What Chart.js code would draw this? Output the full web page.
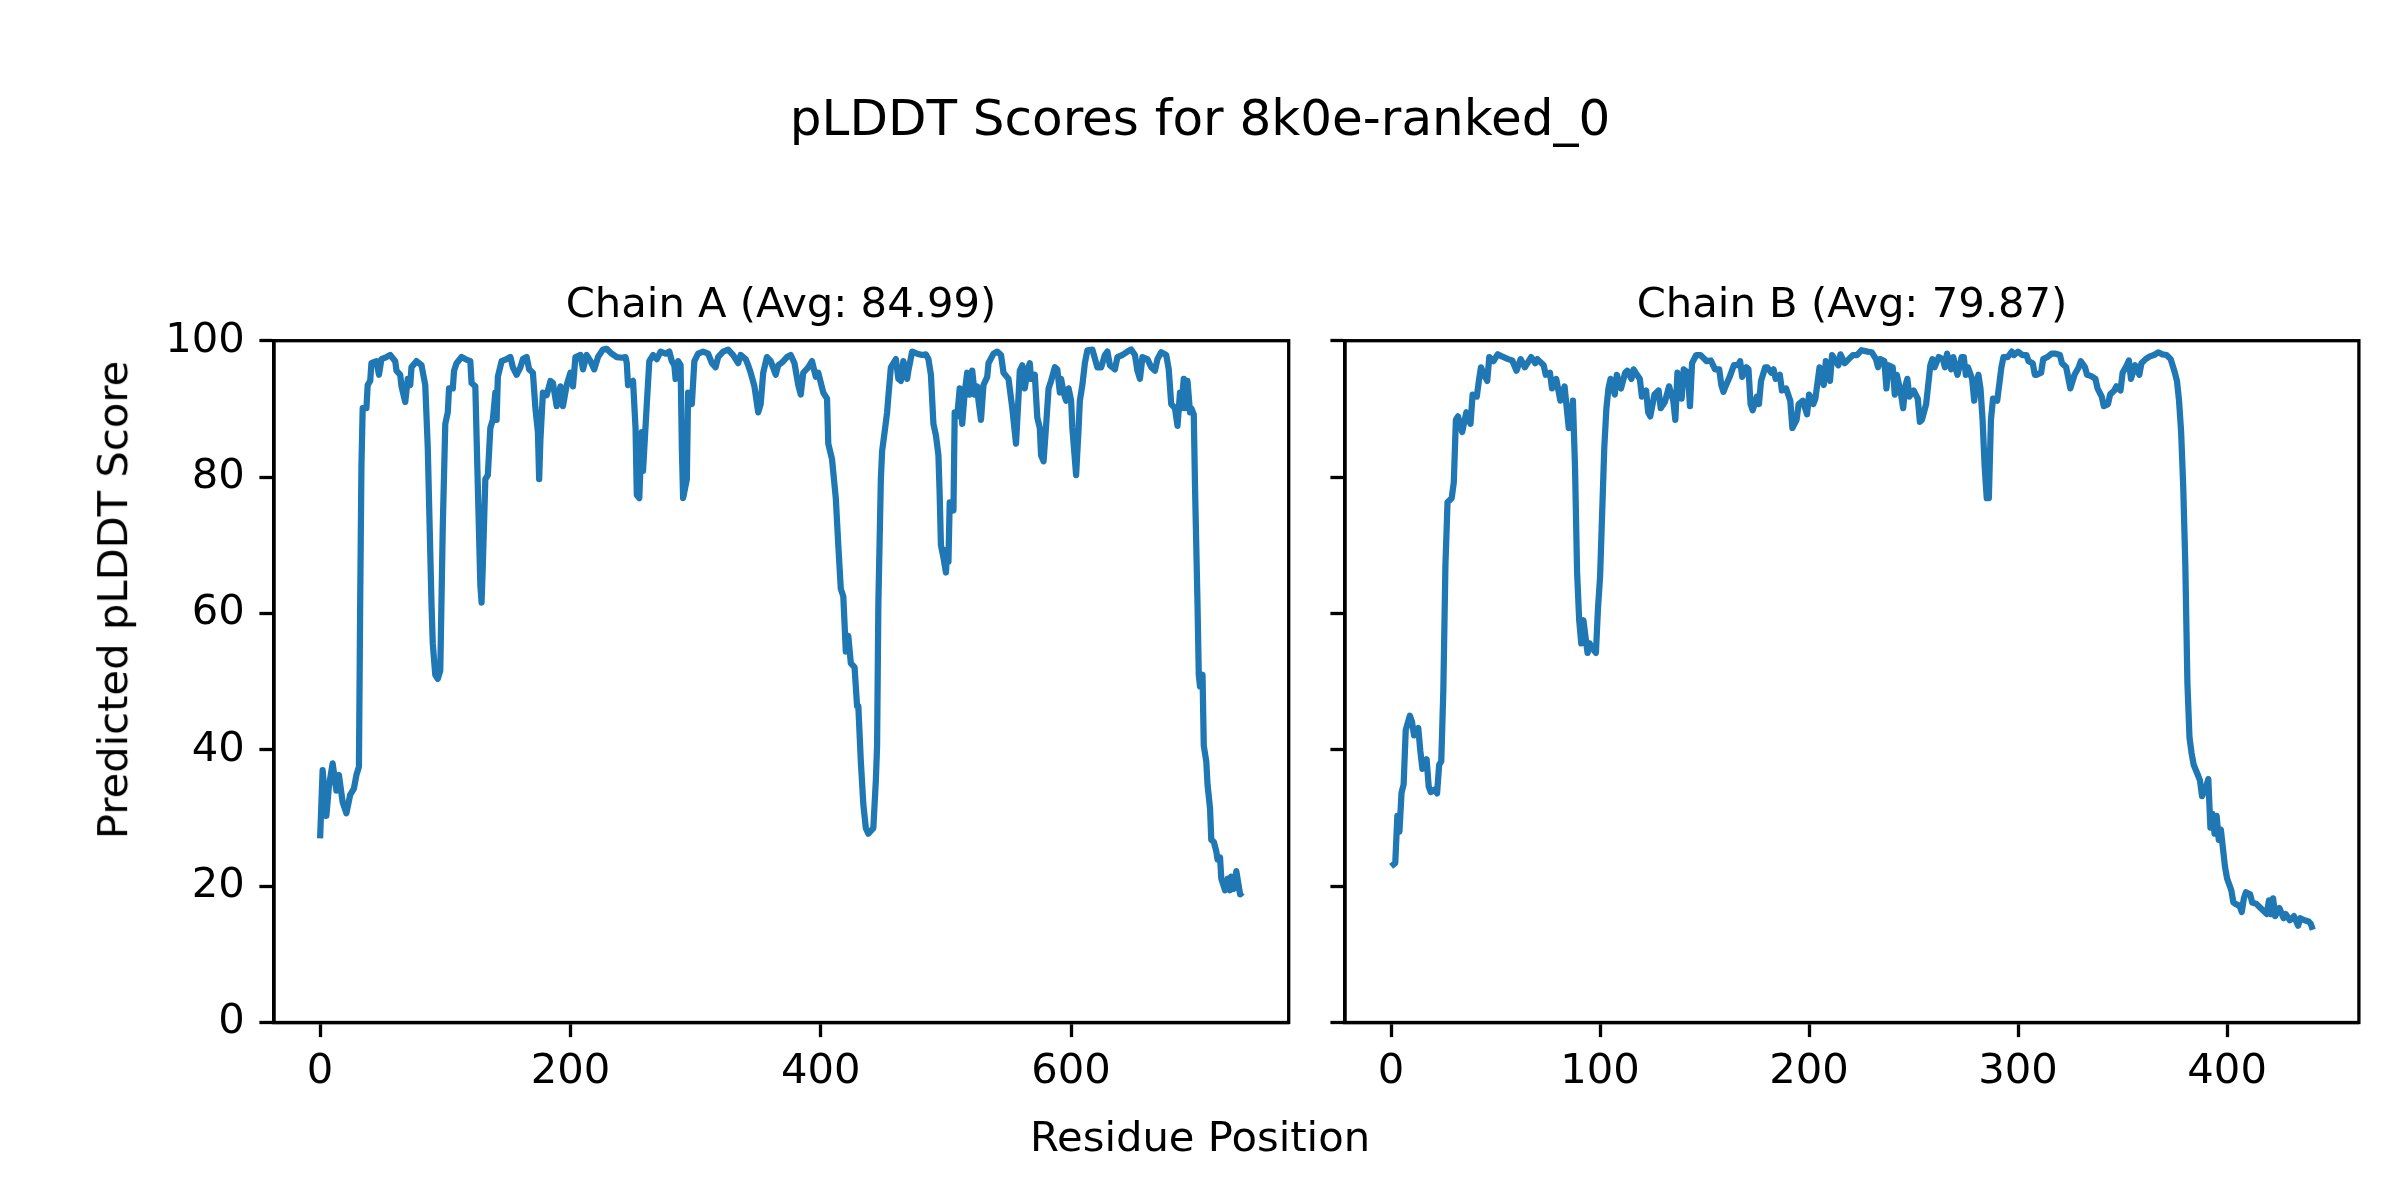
<!DOCTYPE html>
<html>
<head>
<meta charset="utf-8">
<script src="https://cdn.jsdelivr.net/npm/chart.js@4.4.1/dist/chart.umd.min.js"></script>
<style>
    html, body { margin: 0; padding: 0; background: #fff; }
    #wrap { position: relative; width: 2400px; height: 1200px; overflow: hidden; font-family: "DejaVu Sans", sans-serif; color: #000; }
    canvas { position: absolute; left: 0; top: 0; }
    .txt { position: absolute; white-space: nowrap; line-height: 1; transform: translate(-50%, -50%); }
</style>
</head>
<body>
<div id="wrap">
    <canvas id="chainA" width="2400" height="1200"></canvas>
    <canvas id="chainB" width="2400" height="1200"></canvas>
    <div class="txt" id="supTitle" style="left:1200px; top:118px; font-size:50px;"></div>
    <div class="txt" id="titleA" style="left:781px; top:303px; font-size:41.7px;"></div>
    <div class="txt" id="titleB" style="left:1852px; top:303px; font-size:41.7px;"></div>
    <div class="txt" id="xLabel" style="left:1200px; top:1137px; font-size:41.7px;"></div>
    <div class="txt" id="yLabel" style="left:113px; top:600px; font-size:41.7px; transform:translate(-50%,-50%) rotate(-90deg);"></div>
</div>
<script>
// residue position / pLDDT
const posA = [0, 2, 5, 7, 10, 13, 15, 18, 21, 24, 27, 29, 31, 32, 33, 34, 37, 38, 40, 41, 45, 47, 49, 53, 56, 60, 61, 64, 65, 68,
    70, 72, 73, 77, 81, 84, 86, 89, 90, 92, 94, 96, 98, 100, 102, 103, 106, 107, 109, 113, 116, 120, 121, 124, 126, 128, 129, 130, 132, 134,
    136, 138, 140, 141, 142, 145, 149, 152, 154, 157, 160, 162, 165, 167, 170, 172, 174, 175, 176, 178, 181, 184, 186, 189, 192, 194, 197, 200, 202, 204,
    208, 210, 213, 216, 219, 222, 226, 229, 233, 237, 241, 244, 245, 246, 250, 252, 253, 255, 257, 258, 261, 263, 266, 269, 272, 276, 279, 281, 283, 284,
    286, 288, 289, 290, 293, 294, 297, 299, 302, 306, 310, 313, 316, 318, 322, 326, 330, 334, 336, 340, 342, 344, 347, 350, 352, 354, 357, 360, 364, 366,
    369, 373, 376, 379, 382, 384, 386, 390, 393, 396, 398, 402, 405, 406, 409, 412, 414, 416, 418, 420, 422, 424, 427, 429, 430, 432, 434, 436, 438, 442,
    444, 445, 446, 448, 449, 451, 453, 454, 456, 460, 462, 464, 466, 469, 470, 473, 477, 481, 484, 486, 488, 490, 492, 494, 495, 496, 498, 500, 501, 502,
    503, 506, 507, 509, 511, 513, 515, 517, 519, 521, 523, 525, 526, 528, 530, 533, 534, 538, 541, 544, 546, 550, 553, 556, 558, 559, 561, 563, 565, 567,
    568, 571, 573, 575, 576, 578, 580, 582, 584, 587, 589, 591, 592, 594, 596, 598, 600, 601, 604, 606, 607, 609, 611, 613, 617, 621, 624, 627, 629, 631,
    635, 637, 641, 645, 648, 651, 653, 655, 657, 661, 664, 667, 669, 672, 676, 678, 680, 683, 685, 687, 688, 690, 691, 693, 695, 696, 698, 699, 701, 702,
    703, 705, 706, 708, 709, 711, 712, 714, 716, 717, 719, 720, 723, 725, 727, 728, 730, 732, 733, 735, 737];
const scoreA = [27, 37, 30.3, 34.6, 38, 34, 36.3, 32.3, 30.7, 33.4, 34.3, 36.3, 37.5, 61.3, 81.5, 90.1, 90.1, 93.5, 94.1, 96.7, 97, 95, 97.3, 97.6, 97.9, 97, 95.6, 95, 93.3, 91,
    94.4, 93.5, 96.1, 97, 96.4, 93.5, 84.3, 61.3, 55.6, 51, 50.4, 51.6, 72.8, 87.8, 89.5, 93, 93, 95.6, 96.7, 97.6, 97.3, 97, 93.8, 93.3, 78.6, 64.2, 61.6, 67.1, 79.7, 80.3,
    87.2, 88.4, 92.4, 88.4, 94.7, 97, 97.3, 97.6, 96.1, 95, 96.1, 97.3, 97.6, 95.8, 95.3, 90.1, 86.6, 79.7, 85.5, 92.4, 92, 94.1, 93.8, 90.4, 93.3, 90.4, 93.5, 95.3, 93.3, 97.6,
    97.9, 95.8, 97.9, 97, 95.8, 97.6, 98.7, 98.8, 98.1, 97.6, 97.5, 97.6, 96.7, 93.5, 94.1, 87.2, 77.4, 76.9, 86.6, 80.9, 90.7, 97, 97.9, 97.3, 98.4, 98.1, 98.4, 97, 96.4, 94.4,
    97, 96.4, 84.3, 76.9, 79.7, 92.4, 90.7, 97, 98.1, 98.4, 98.1, 96.7, 96.1, 97.6, 98.4, 98.7, 97.9, 96.7, 97.9, 97.3, 96.4, 95.3, 93.3, 89.5, 90.7, 95.3, 97.6, 97, 95, 96.4,
    96.8, 97.6, 97.9, 96.7, 93.5, 92.1, 95.3, 96.1, 97, 94.7, 95.3, 92.4, 91.5, 84.9, 82.6, 76.9, 70, 63.6, 62.5, 54.4, 56.7, 52.7, 52.1, 46.4, 46.4, 38.3, 32, 28.5, 27.7, 28.5,
    35.5, 40.6, 61.3, 79.7, 83.8, 86.6, 89.5, 91.8, 96.1, 97.3, 94.4, 94.1, 97, 94.4, 95.6, 98.4, 98.1, 97.9, 98, 97.3, 95, 87.8, 86.1, 83.2, 77.4, 70, 68.2, 66, 69.4, 67.6,
    76.3, 75.1, 89.5, 88.9, 93, 87.8, 92.4, 95.3, 92.1, 95.6, 92.1, 93.3, 91.2, 88.4, 93.5, 94.7, 96.7, 98.1, 98.4, 97.9, 95.3, 94.4, 90.1, 84.9, 91.8, 95.6, 96.4, 93, 95.6, 96.7,
    94.4, 95, 88.7, 87.2, 83.2, 82.3, 87.5, 93, 94.1, 96.1, 95.8, 92.4, 94.4, 92.4, 91.2, 93, 91.2, 87.2, 80.3, 87.2, 91.2, 93.5, 96.7, 98.6, 98.7, 96.1, 96.1, 97.9, 98.4, 96.4,
    95.8, 97.6, 97.9, 98.4, 98.7, 97.9, 95.6, 94.4, 97.6, 97.3, 96.1, 95.6, 97.3, 98.3, 97.9, 95.8, 90.7, 90.1, 87.5, 92.4, 90.1, 94.4, 90.1, 94.1, 89.5, 90.1, 89.2, 78.6, 61.3, 51,
    49.3, 51, 40.6, 38.3, 34.9, 31.4, 26.8, 26.5, 25.1, 23.9, 24.2, 21.1, 19.4, 21.1, 19.4, 21.4, 19.6, 22.2, 21.1, 18.8, 19.1];

const posB = [0, 2, 3, 4, 5, 6, 7, 9, 10, 11, 13, 14, 15, 17, 18, 19, 21, 22, 23, 24, 25, 26, 27, 29, 30, 31, 32, 34, 36, 38,
    39, 41, 42, 43, 45, 46, 47, 49, 51, 53, 56, 58, 60, 62, 64, 67, 69, 70, 73, 74, 76, 77, 79, 81, 83, 85, 86, 87, 88, 89,
    90, 91, 92, 94, 95, 96, 98, 99, 100, 102, 103, 104, 105, 107, 108, 110, 112, 113, 115, 116, 117, 119, 120, 122, 123, 124, 126, 128, 129, 131,
    133, 135, 136, 137, 139, 140, 142, 143, 144, 146, 148, 151, 153, 155, 157, 158, 159, 160, 162, 164, 166, 167, 168, 170, 171, 172, 173, 175, 176, 177,
    179, 180, 182, 183, 184, 186, 187, 189, 191, 192, 194, 195, 197, 199, 200, 202, 203, 205, 207, 208, 210, 211, 214, 215, 217, 219, 221, 223, 225, 228,
    230, 232, 233, 234, 236, 237, 238, 240, 241, 242, 244, 245, 246, 247, 248, 250, 252, 253, 254, 256, 258, 259, 260, 262, 264, 265, 266, 268, 269, 270,
    271, 273, 274, 275, 276, 278, 279, 280, 281, 282, 283, 284, 285, 286, 287, 288, 290, 292, 293, 295, 297, 298, 300, 302, 304, 305, 307, 308, 309, 311,
    312, 314, 316, 318, 320, 321, 323, 325, 327, 329, 330, 332, 333, 335, 337, 338, 340, 341, 343, 344, 346, 347, 349, 350, 352, 353, 354, 356, 358, 359,
    361, 363, 365, 367, 369, 371, 373, 375, 376, 377, 378, 379, 380, 381, 382, 383, 384, 386, 387, 388, 390, 391, 392, 393, 394, 395, 396, 397, 399, 400,
    402, 403, 404, 406, 407, 408, 409, 411, 412, 414, 415, 417, 419, 420, 421, 422, 423, 425, 427, 428, 430, 432, 434, 435, 437, 439, 440, 441];
const scoreB = [22.9, 23.4, 30.3, 28, 33.7, 34.9, 42.9, 45, 44.1, 42.1, 43.2, 39.8, 37.2, 38.6, 34.6, 33.8, 34.2, 33.6, 37.8, 38.3, 48.7, 67.1, 76.3, 76.9, 79.2, 88.4, 88.9, 86.6, 89.5, 87.8,
    92.1, 91.8, 94.1, 96.1, 94.7, 94.1, 97.6, 97, 98, 97.7, 97.3, 97.1, 95.6, 97.3, 96.1, 97.6, 96.7, 97.3, 96.4, 95, 95.3, 93, 94.4, 91.2, 93.3, 87.2, 87.2, 91.2, 81.5, 66,
    59, 55.6, 59, 54.2, 55.6, 55, 54.2, 60.8, 65.4, 84.3, 90, 93, 94.4, 92.1, 95, 93, 95.3, 95.6, 94.4, 95.8, 95.3, 94.4, 91.8, 92.7, 89.5, 88.9, 92.1, 92.7, 90.1, 91,
    93.3, 91.2, 88.4, 95.3, 91.5, 95.8, 95.3, 90.4, 96.7, 97.9, 97.9, 97, 97.1, 95.8, 95.8, 93.5, 92.5, 93.3, 94.7, 96.4, 96.4, 97, 94.7, 96.1, 95.8, 90.7, 89.8, 91.8, 90.7, 94.1,
    96.1, 96.1, 95.3, 95.8, 94.4, 95, 92.7, 93, 91.2, 87.2, 88.4, 90.7, 91.2, 89.2, 92.1, 90.7, 91.5, 96.1, 93.5, 97, 94.1, 97.9, 96.4, 98, 96.7, 97.3, 97.9, 97.9, 98.6, 98.4,
    98.3, 97.3, 96.1, 97.3, 97, 93, 96.4, 96.1, 92.1, 95, 92.1, 90.1, 93.3, 94.4, 91.8, 92.7, 91.5, 88.1, 88.4, 90.7, 96.4, 97.3, 96.1, 97.6, 97.3, 96.1, 98.1, 95.8, 97.6, 96.1,
    95, 97.6, 97.6, 95, 96.1, 94.4, 91.2, 93.5, 95, 93, 88.4, 81.5, 76.9, 76.9, 88.4, 91.5, 91.2, 96.1, 97.6, 97.6, 98.4, 97.9, 98.4, 97.9, 97.9, 97, 96.7, 95, 95, 95.3,
    97.3, 97.6, 98.1, 98.1, 97.9, 96.7, 96.1, 93, 95, 96.1, 97, 96.1, 95, 94.8, 94.4, 93, 91.8, 90.4, 90.7, 92.1, 92.7, 93.3, 92.7, 95.3, 96.4, 97.1, 94.4, 96.4, 95, 96.7,
    97.3, 97.7, 97.9, 98.3, 98, 97.9, 97.3, 95.3, 94.1, 91.2, 86.6, 78.6, 67.1, 49.8, 41.8, 39.5, 37.8, 36.3, 35.5, 33.2, 34.6, 35.7, 28.6, 30.6, 27.7, 30.3, 26.8, 28.3, 22.8, 21.1,
    19.4, 17.6, 17.4, 17.1, 16.2, 18.2, 19.1, 18.8, 17.6, 17.4, 17.1, 16.5, 15.9, 17.9, 15.9, 18.2, 15.6, 16.8, 15.3, 15.9, 15, 15.6, 14.2, 15.3, 15, 14.8, 14.5, 13.6];

const xTicksA = [0, 200, 400, 600];
const xTicksB = [0, 100, 200, 300, 400];
const yTicks = [0, 20, 40, 60, 80, 100];

const avgA = '84.99';
const avgB = '79.87';

document.getElementById('supTitle').textContent = 'pLDDT Scores for 8k0e-ranked_0';
document.getElementById('titleA').textContent = 'Chain A (Avg: ' + avgA + ')';
document.getElementById('titleB').textContent = 'Chain B (Avg: ' + avgB + ')';
document.getElementById('xLabel').textContent = 'Residue Position';
document.getElementById('yLabel').textContent = 'Predicted pLDDT Score';

const fonte = { family: 'DejaVu Sans', size: 41.7 };

// caixa completa em volta da area do grafico (as 4 bordas)
const moldura = {
    id: 'moldura',
    afterDraw(chart) {
        const a = chart.chartArea;
        const ctx = chart.ctx;
        ctx.save();
        ctx.strokeStyle = '#000';
        ctx.lineWidth = 3.3;
        ctx.strokeRect(a.left, a.top, a.right - a.left, a.bottom - a.top);
        ctx.restore();
    }
};

function criarGrafico(id, posicoes, valores, xmin, xmax, xTicks, padLeft, padRight, mostrarY) {
    const pontos = posicoes.map((p, i) => ({ x: p, y: valores[i] }));
    return new Chart(document.getElementById(id).getContext('2d'), {
        type: 'line',
        data: {
            datasets: [{
                data: pontos,
                borderColor: '#1f77b4',
                borderWidth: 6.25,
                pointRadius: 0,
                tension: 0,
                fill: false,
                borderJoinStyle: 'round'
            }]
        },
        options: {
            responsive: false,
            animation: false,
            devicePixelRatio: 1,
            layout: { padding: { left: padLeft, right: padRight, top: 340.7, bottom: 57.5 } },
            plugins: { legend: { display: false }, tooltip: { enabled: false } },
            scales: {
                x: {
                    type: 'linear',
                    min: xmin,
                    max: xmax,
                    afterBuildTicks: s => { s.ticks = xTicks.map(v => ({ value: v })); },
                    afterFit: s => { s.height = 120; },
                    grid: { drawOnChartArea: false, tickLength: 14.6, tickWidth: 3.3, tickColor: '#000' },
                    border: { color: '#000', width: 3.3 },
                    ticks: { font: fonte, color: '#000', padding: 10, maxRotation: 0, autoSkip: false }
                },
                y: {
                    min: 0,
                    max: 100,
                    afterBuildTicks: s => { s.ticks = yTicks.map(v => ({ value: v })); },
                    afterFit: s => { s.width = 150; },
                    grid: { drawOnChartArea: false, tickLength: 14.6, tickWidth: 3.3, tickColor: '#000' },
                    border: { color: '#000', width: 3.3 },
                    ticks: {
                        font: fonte, color: '#000', padding: 14.6,
                        callback: v => mostrarY ? v : ''
                    }
                }
            }
        },
        plugins: [moldura]
    });
}

criarGrafico('chainA', posA, scoreA, -36.85, 773.85, xTicksA, 124, 1111.3, true);
criarGrafico('chainB', posB, scoreB, -22.05, 463.05, xTicksB, 1195, 41.1, false);
</script>
</body>
</html>
